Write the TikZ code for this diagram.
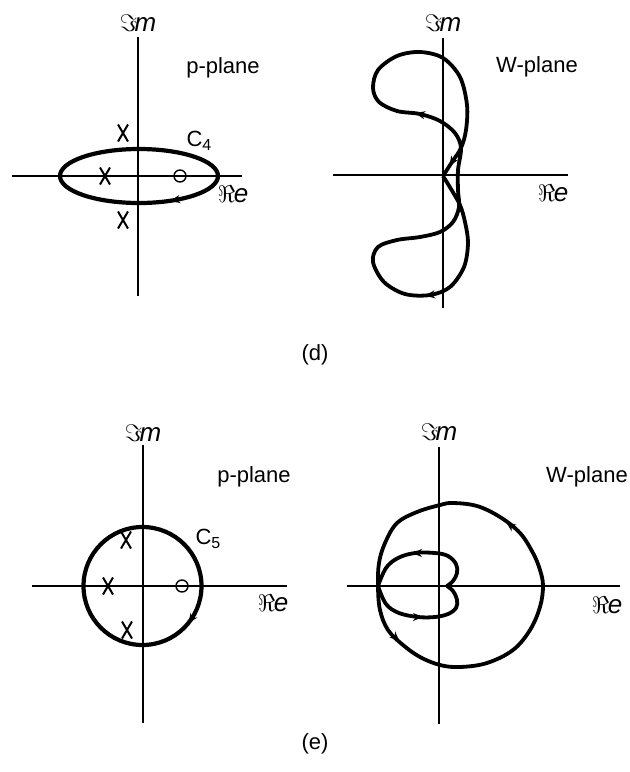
\documentclass[tikz,border=0pt]{standalone}
\usepackage{fontspec}
\setmainfont{Liberation Sans}
\usetikzlibrary{shapes.misc,arrows.meta}
\begin{document}
\begin{tikzpicture}[x=0.5pt,y=-0.5pt,
  axis/.style={line width=0.6pt},
  curve/.style={line width=1.9pt, line join=round},
  lbl/.style={font=\fontsize{11}{13}\selectfont, inner sep=0pt},
  axlbl/.style={font=\fontsize{13}{15}\selectfont, inner sep=0pt},
  pole/.style={cross out, draw, line width=1pt, minimum width=4pt, minimum height=7.5pt, inner sep=0pt},
  zero/.style={circle, draw, line width=0.7pt, minimum size=6pt, inner sep=0pt},
  tip/.style={-{Stealth[length=5pt,width=4pt]}, line width=0.9pt}]
\useasboundingbox (0,0) rectangle (630,772);

% ---------------- (d) p-plane ----------------
\coordinate (dpT) at (138,37);  \coordinate (dpB) at (138,296);
\coordinate (dpL) at (12,176);  \coordinate (dpR) at (242,176);
\draw[axis] (dpT) -- (dpB);
\draw[axis] (dpL) -- (dpR);
\node[axlbl] (dpIm) at (138,23) {$\Im\mkern-2mu\mathit{m}$};
\node[axlbl] (dpRe) at (233,194) {$\Re\mkern-1mu\mathit{e}$};
\node[lbl] (dpName) at (223,68) {p-plane};
\node[lbl] (dpC) at (199,141) {C\raisebox{-0.35ex}{\fontsize{8}{9}\selectfont 4}};
\node[pole] (dpX1) at (123,133) {};
\node[pole] (dpX2) at (105,176) {};
\node[pole] (dpX3) at (123,220) {};
\node[zero] (dpO) at (180,176) {};
\draw[line width=2.1pt] (139,176) ellipse [x radius=79, y radius=27];
\draw[tip] (180,199.1) -- (170,200.9);

% ---------------- (d) W-plane ----------------
\coordinate (dwT) at (443,38);  \coordinate (dwB) at (443,308);
\coordinate (dwL) at (333,175); \coordinate (dwR) at (568,175);
\draw[axis] (dwT) -- (dwB);
\draw[axis] (dwL) -- (dwR);
\node[axlbl] (dwIm) at (443,23) {$\Im\mkern-2mu\mathit{m}$};
\node[axlbl] (dwRe) at (553,193) {$\Re\mkern-1mu\mathit{e}$};
\node[lbl] (dwName) at (537,67) {W-plane};
\draw[curve] plot[smooth, tension=0.55] coordinates {
  (443,176) (451,189) (460,205) (465,222) (468,243) (464,267) (450,287)
  (430,295) (405,294) (384,282) (373,262) (378,247) (397,240) (420,237)
  (440,232) (453,222) (459,207) (458,190) (458,170) (461,148) (455,133)
  (440,121) (420,114) (397,111) (379,102) (373,88) (378,70) (397,56)
  (420,52) (443,58) (460,77) (467,105) (466,130) (461,148) (452,162) (443,176)};
\draw[tip] (425,115.2) -- (415,113.2);
\draw[tip] (454.7,157.8) -- (449.3,166.2);
\draw[tip] (435,294.3) -- (425,295.7);

\node[lbl] (dlab) at (315,355) {(d)};

% ---------------- (e) p-plane ----------------
\coordinate (epT) at (143,445); \coordinate (epB) at (143,723);
\coordinate (epL) at (32,586);  \coordinate (epR) at (287,586);
\draw[axis] (epT) -- (epB);
\draw[axis] (epL) -- (epR);
\node[axlbl] (epIm) at (143,433) {$\Im\mkern-2mu\mathit{m}$};
\node[axlbl] (epRe) at (273,603) {$\Re\mkern-1mu\mathit{e}$};
\node[lbl] (epName) at (254,477) {p-plane};
\node[lbl] (epC) at (208,539) {C\raisebox{-0.35ex}{\fontsize{8}{9}\selectfont 5}};
\node[pole] (epX1) at (126,540) {};
\node[pole] (epX2) at (108,586) {};
\node[pole] (epX3) at (127,630) {};
\node[zero] (epO) at (182,586) {};
\draw[line width=2.1pt] (142.5,586) circle [radius=59];
\draw[tip] (193.9,615.3) -- (188.3,623.5);

% ---------------- (e) W-plane ----------------
\coordinate (ewT) at (439,447); \coordinate (ewB) at (439,724);
\coordinate (ewL) at (347,586); \coordinate (ewR) at (620,586);
\draw[axis] (ewT) -- (ewB);
\draw[axis] (ewL) -- (ewR);
\node[axlbl] (ewIm) at (439,432) {$\Im\mkern-2mu\mathit{m}$};
\node[axlbl] (ewRe) at (607,605) {$\Re\mkern-1mu\mathit{e}$};
\node[lbl] (ewName) at (587,477) {W-plane};
\draw[curve] plot[smooth cycle, tension=0.6] coordinates {
  (378,586) (379,563) (385,543) (397,523) (417,512) (440,505) (453,503)
  (477,506) (500,517) (520,533) (533,553) (540,570) (543,586) (540,607)
  (530,630) (513,650) (487,663) (460,667) (440,665) (420,657) (403,645)
  (388,630) (380,610)};
\draw[curve] plot[smooth, tension=0.6] coordinates {
  (378,586) (386,568) (398,558) (415,553) (435,553) (448,556) (456,564)
  (457,573) (453,581) (447,586)};
\draw[curve] plot[smooth, tension=0.6] coordinates {
  (447,586) (453,591) (457,600) (456,608) (448,614) (435,617) (418,617)
  (399,613) (386,604) (378,586)};
\draw[tip] (422,553) -- (412,553);
\draw[tip] (413,617) -- (423,617);
\draw[tip] (514,528) -- (506,522);
\draw[tip] (392.5,634.5) -- (399.5,641.5);

\node[lbl] (elab) at (315,744) {(e)};
\end{tikzpicture}
\end{document}
